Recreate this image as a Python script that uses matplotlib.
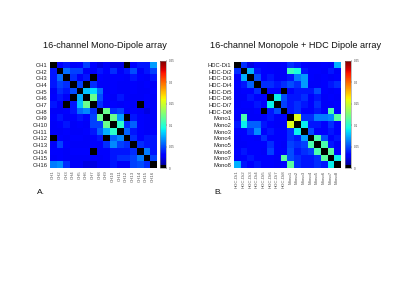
import numpy as np
import matplotlib
matplotlib.use("Agg")
import matplotlib.pyplot as plt
from matplotlib.colors import ListedColormap

left_labels = [f"CH{i}" for i in range(1, 17)]
right_labels = [f"HDC-Di{i}" for i in range(1, 9)] + [f"Mono{i}" for i in range(1, 9)]
cbar_ticks = [0, 0.05, 0.1, 0.15, 0.2, 0.25]
cbar_ticklabels = ["0", "0.05", "0.1", "0.15", "0.2", "0.25"]

left_values = [
    [0, .032, .037, .027, .032, .047, .032, .022, .027, .022, .022, 0, .032, .037, .037, .07],
    [.037, 0, .058, .047, .047, .027, .027, .037, .032, .042, .027, .037, .05, .027, .037, .047],
    [.037, .058, 0, .042, .027, .037, 0, .032, .027, .032, .032, .027, .037, .032, .027, .037],
    [.037, .047, .042, 0, .047, 0, .042, .027, .027, .032, .027, .027, .032, .027, .032, .027],
    [.027, .042, .037, .05, 0, .08, .085, .058, .027, .032, .027, .027, .032, .027, .027, .032],
    [.032, .037, .027, 0, .075, 0, .12, .05, .032, .027, .037, .027, .027, .027, .032, .027],
    [.037, .027, 0, .037, .08, .12, 0, .042, .027, .032, .027, .032, .027, 0, .032, .027],
    [.027, .027, .032, .037, .058, .065, .042, 0, .12, .042, .047, .027, .032, .027, .022, .027],
    [.032, .037, .027, .032, .037, .032, .047, .12, 0, .12, .07, 0, .037, .032, .027, .027],
    [.027, .032, .037, .027, .032, .027, .047, .047, .12, 0, .1, .042, .055, .032, .027, .027],
    [.027, .027, .032, .027, .027, .032, .037, .055, .075, .1, 0, .055, .037, .032, .027, .032],
    [0, .032, .027, .032, .032, .027, .032, .037, 0, .055, .065, 0, .042, .032, .037, .037],
    [.027, .047, .032, .027, .027, .027, .032, .032, .042, .065, .047, .042, 0, .042, .037, .037],
    [.032, .032, .027, .032, .032, .032, 0, .032, .032, .037, .037, .037, .042, 0, .062, .037],
    [.027, .032, .027, .027, .027, .027, .032, .027, .032, .037, .042, .042, .047, .062, 0, .047],
    [.062, .066, .042, .027, .027, .022, .022, .027, .027, .037, .027, .027, .047, .05, .042, 0],
]

right_values = [
    [0, .042, .022, .032, .032, .027, .027, .032, .042, .037, .032, .027, .027, .032, .027, .075],
    [.042, 0, .075, .037, .032, .032, .027, .027, .105, .095, .037, .032, .032, .027, .037, .027],
    [.027, .075, 0, .05, .032, .037, .027, .027, .037, .062, .07, .032, .027, .032, .027, .032],
    [.032, .037, .055, 0, .042, .042, .037, .042, .05, .042, .07, .027, .027, .032, .037, .042],
    [.027, .032, .032, .042, 0, .032, .032, 0, .032, .037, .037, .037, .05, .032, .027, .032],
    [.027, .027, .037, .032, .032, 0, .09, .05, .037, .037, .042, .032, .037, .027, .032, .027],
    [.027, .032, .032, .037, .032, .09, 0, .047, .037, .042, .037, .032, .042, .027, .027, .032],
    [.032, .027, .027, .032, 0, .037, .05, 0, .037, .042, .032, .032, .037, .032, .11, .032],
    [.027, .11, .027, .027, .032, .037, .027, .032, 0, .155, .042, .042, .062, .062, .066, .115],
    [.037, .09, .055, .055, .037, .032, .027, .027, .155, 0, .09, .037, .037, .032, .042, .032],
    [.032, .032, .042, .066, .032, .037, .032, .032, .042, .09, 0, .05, .032, .032, .037, .032],
    [.027, .032, .032, .027, .042, .032, .032, .032, .042, .037, .07, 0, .11, .05, .032, .037],
    [.027, .027, .032, .032, .032, .042, .032, .027, .047, .042, .047, .11, 0, .11, .037, .027],
    [.032, .037, .032, .032, .027, .047, .032, .032, .05, .037, .042, .047, .11, 0, .115, .032],
    [.027, .032, .037, .032, .032, .032, .027, .115, .05, .042, .037, .037, .042, .115, 0, .09],
    [.075, .037, .032, .037, .032, .032, .027, .032, .115, .042, .037, .037, .042, .037, .09, 0],
]

plt.rcParams['font.family'] = ['Liberation Sans', 'DejaVu Sans']

cols = plt.cm.jet(np.linspace(0, 1, 256))
cols[:8] = [0, 0, 0, 1]
cmap = ListedColormap(cols)

fig = plt.figure(figsize=(4, 3), dpi=100)
fig.patch.set_facecolor('white')


def panel(ax_rect, cb_rect, data, labels, title, title_x, letter, letter_x):
    ax = fig.add_axes(ax_rect)
    im = ax.imshow(np.array(data), cmap=cmap, vmin=0, vmax=0.25,
                   aspect='auto', interpolation='nearest')
    ax.set_xticks(range(len(labels)))
    ax.set_yticks(range(len(labels)))
    ax.set_xticklabels(labels, rotation=90, fontsize=3.2, color='#555555')
    ax.set_yticklabels(labels, fontsize=4.2, color='#222222')
    ax.tick_params(length=0, pad=1.5)
    for s in ax.spines.values():
        s.set_visible(False)
    cax = fig.add_axes(cb_rect)
    cb = fig.colorbar(im, cax=cax, ticks=cbar_ticks)
    cb.ax.set_yticklabels(cbar_ticklabels, fontsize=2.2, color='#444444')
    cb.ax.tick_params(length=1, width=0.3, pad=1)
    cb.outline.set_linewidth(0.4)
    cb.outline.set_edgecolor('#888888')
    fig.text(title_x, 0.85, title, ha='center', va='center', fontsize=6.6, color='#111111')
    fig.text(letter_x, 0.36, letter, ha='left', va='center', fontsize=6, color='#111111')


panel([0.124, 0.439, 0.2665, 0.355], [0.40, 0.44, 0.015, 0.357],
      left_values, left_labels, "16-channel Mono-Dipole array", 0.262, "A.", 0.092)
panel([0.584, 0.439, 0.2665, 0.355], [0.8625, 0.44, 0.015, 0.357],
      right_values, right_labels, "16-channel Monopole + HDC Dipole array", 0.74, "B.", 0.537)

fig.savefig("out.png", dpi=100, facecolor='white')
